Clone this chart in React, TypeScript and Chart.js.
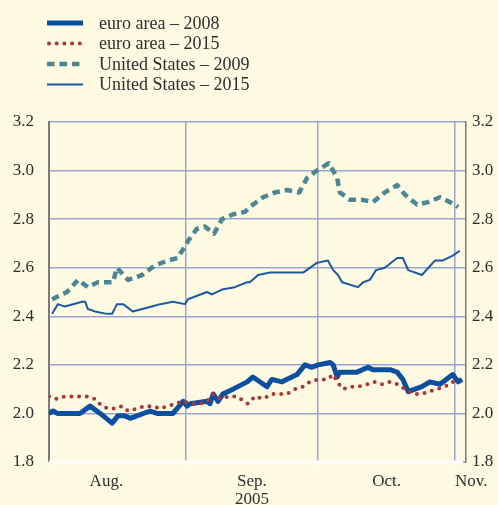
import React, { useEffect, useRef } from "react";
import { Chart, registerables } from "chart.js";
Chart.register(...registerables);

// x = calendar day counted from 1 August 2005
const euro2008Days = [0, 0.9, 2.0, 4.1, 7.0, 9.3, 11.6, 14.3, 15.6, 17.2, 18.4, 22.9, 24.5, 28.1, 30.4, 31.3, 32.0, 35.8, 36.5, 37.2, 38.3, 39.4, 41.7, 44.9, 46.2, 49.4, 50.5, 52.8, 56.2, 58.0, 59.6, 61.0, 63.7, 64.4, 65.3, 65.9, 69.8, 72.3, 73.4, 77.3, 78.9, 80.2, 81.4, 84.5, 86.3, 88.6, 91.5, 92.7, 93.6];
const euro2008Values = [2.0, 2.01, 2.0, 2.0, 2.0, 2.03, 2.0, 1.96, 1.99, 1.99, 1.98, 2.01, 2.0, 2.0, 2.05, 2.03, 2.04, 2.05, 2.04, 2.08, 2.05, 2.08, 2.1, 2.13, 2.15, 2.11, 2.14, 2.13, 2.16, 2.2, 2.19, 2.2, 2.21, 2.2, 2.15, 2.17, 2.17, 2.19, 2.18, 2.18, 2.17, 2.14, 2.09, 2.11, 2.13, 2.12, 2.16, 2.13, 2.14];

const euro2015Days = [0, 1.8, 3.6, 5.2, 7.0, 8.6, 10.4, 12.0, 13.4, 15.0, 16.5, 17.9, 19.9, 21.8, 23.6, 25.2, 27.0, 28.6, 30.4, 32.4, 34.2, 35.8, 37.2, 38.7, 40.6, 42.6, 45.1, 46.7, 48.5, 50.5, 52.1, 53.9, 55.7, 57.6, 59.1, 61.0, 63.0, 64.4, 65.3, 66.6, 68.2, 70.0, 72.1, 73.6, 75.5, 77.3, 79.1, 80.7, 82.5, 84.5, 86.1, 87.9, 89.7, 91.5, 92.7];
const euro2015Values = [2.07, 2.06, 2.07, 2.07, 2.07, 2.07, 2.06, 2.03, 2.02, 2.02, 2.03, 2.01, 2.02, 2.03, 2.03, 2.02, 2.03, 2.04, 2.05, 2.04, 2.04, 2.05, 2.08, 2.06, 2.07, 2.07, 2.04, 2.07, 2.06, 2.08, 2.08, 2.08, 2.1, 2.11, 2.13, 2.14, 2.14, 2.16, 2.13, 2.1, 2.11, 2.11, 2.12, 2.13, 2.12, 2.13, 2.12, 2.1, 2.08, 2.08, 2.09, 2.1, 2.11, 2.13, 2.11];

const us2009Days = [0.7, 4.1, 6.6, 8.8, 11.1, 14.5, 15.4, 17.9, 21.1, 24.0, 27.0, 29.2, 31.5, 33.5, 35.3, 37.4, 39.2, 41.7, 44.4, 45.5, 48.5, 51.2, 53.9, 56.7, 58.5, 60.7, 63.4, 65.3, 65.9, 68.2, 70.9, 73.4, 76.1, 78.9, 80.7, 83.4, 85.9, 88.6, 92.0, 92.7];
const us2009Values = [2.47, 2.5, 2.55, 2.52, 2.54, 2.54, 2.6, 2.55, 2.57, 2.61, 2.63, 2.64, 2.71, 2.76, 2.77, 2.74, 2.8, 2.82, 2.83, 2.85, 2.89, 2.91, 2.92, 2.91, 2.97, 3.0, 3.03, 2.97, 2.91, 2.88, 2.88, 2.87, 2.91, 2.94, 2.9, 2.86, 2.87, 2.89, 2.86, 2.85];

const us2015Days = [0.7, 2.0, 3.6, 7.5, 8.2, 8.8, 10.4, 13.1, 14.3, 15.4, 16.8, 19.0, 23.3, 25.2, 28.1, 30.8, 31.5, 35.8, 36.9, 39.2, 42.1, 44.9, 45.5, 47.4, 50.1, 51.7, 55.3, 57.6, 60.7, 63.2, 64.4, 65.5, 66.4, 70.0, 71.2, 72.7, 74.1, 76.1, 78.9, 80.2, 81.4, 84.5, 87.5, 89.3, 91.5, 93.1];
const us2015Values = [2.41, 2.45, 2.44, 2.46, 2.46, 2.43, 2.42, 2.41, 2.41, 2.45, 2.45, 2.42, 2.44, 2.45, 2.46, 2.45, 2.47, 2.5, 2.49, 2.51, 2.52, 2.54, 2.54, 2.57, 2.58, 2.58, 2.58, 2.58, 2.62, 2.63, 2.59, 2.57, 2.54, 2.52, 2.54, 2.55, 2.59, 2.6, 2.64, 2.64, 2.59, 2.57, 2.63, 2.63, 2.65, 2.67];

const seriesNames = ["euro area \u2013 2008", "euro area \u2013 2015", "United States \u2013 2009", "United States \u2013 2015"];
const monthStarts = [0, 31, 61, 92];
const monthLabels = ["Aug.", "Sep.", "Oct.", "Nov."];
const monthLabelDays = [13, 46, 76.5, 92];
const yearLabel = "2005";
const yMin = 1.8;
const yMax = 3.2;
const yStep = 0.2;

const BG = "#fefbe2";
const GRID = "#9ba5d2";
const TEXT = "#2e2e2e";
const FONT = "'Liberation Serif', 'DejaVu Serif', serif";

const styles = [
  { color: "#0b50a0", width: 5, dash: [] as number[], cap: "butt" as CanvasLineCap },
  { color: "#b03530", width: 4, dash: [0, 7.7], cap: "round" as CanvasLineCap },
  { color: "#4a8796", width: 4.5, dash: [7.5, 5], cap: "butt" as CanvasLineCap },
  { color: "#1a5aa5", width: 2, dash: [] as number[], cap: "butt" as CanvasLineCap },
];

const pts = (d: number[], v: number[]) => d.map((x, i) => ({ x, y: v[i] }));

const decor = {
  id: "decor",
  beforeDraw(chart: any) {
    const c = chart.ctx;
    c.save();
    c.fillStyle = BG;
    c.fillRect(0, 0, chart.width, chart.height);
    c.restore();
  },
  afterDraw(chart: any) {
    const c = chart.ctx as CanvasRenderingContext2D;
    const a = chart.chartArea;
    const xs = chart.scales.x;
    c.save();
    c.strokeStyle = "#ffffff";
    c.lineWidth = 3;
    c.beginPath();
    c.moveTo(a.left, a.bottom);
    c.lineTo(a.right - 3, a.bottom);
    c.stroke();
    c.lineWidth = 2;
    monthStarts.forEach((d) => {
      const px = xs.getPixelForValue(d);
      c.beginPath();
      c.moveTo(px, a.bottom);
      c.lineTo(px, a.bottom + 6);
      c.stroke();
    });
    c.fillStyle = TEXT;
    c.font = `17px ${FONT}`;
    c.textBaseline = "alphabetic";
    monthLabels.forEach((lab, i) => {
      const px = xs.getPixelForValue(monthLabelDays[i]);
      c.textAlign = i === monthLabels.length - 1 ? "left" : "center";
      c.fillText(lab, px, a.bottom + 24);
    });
    c.textAlign = "center";
    c.fillText(yearLabel, xs.getPixelForValue(monthLabelDays[1]), a.bottom + 42);
    c.font = `18px ${FONT}`;
    const rowY = [23, 43.5, 64, 84.5];
    seriesNames.forEach((name, i) => {
      const s = styles[i];
      c.strokeStyle = s.color;
      c.lineWidth = s.width;
      c.setLineDash(s.dash);
      c.lineCap = s.cap;
      c.beginPath();
      c.moveTo(i === 1 ? 49 : 47, rowY[i]);
      c.lineTo(83, rowY[i]);
      c.stroke();
      c.setLineDash([]);
      c.lineCap = "butt";
      c.fillStyle = TEXT;
      c.textAlign = "left";
      c.textBaseline = "middle";
      c.fillText(name, 99, rowY[i] + 1);
    });
    c.restore();
  },
};

export default function App() {
  const ref = useRef<HTMLCanvasElement>(null);
  useEffect(() => {
    if (!ref.current) return;
    const ds = [
      { label: seriesNames[1], data: pts(euro2015Days, euro2015Values), s: styles[1] },
      { label: seriesNames[0], data: pts(euro2008Days, euro2008Values), s: styles[0] },
      { label: seriesNames[2], data: pts(us2009Days, us2009Values), s: styles[2] },
      { label: seriesNames[3], data: pts(us2015Days, us2015Values), s: styles[3] },
    ].map((d) => ({
      label: d.label,
      data: d.data,
      borderColor: d.s.color,
      borderWidth: d.s.width,
      borderDash: d.s.dash,
      borderCapStyle: d.s.cap,
      borderJoinStyle: "round" as const,
      pointRadius: 0,
      tension: 0,
      fill: false,
    }));
    const tickFont = { family: FONT, size: 17 };
    const chart = new Chart(ref.current, {
      type: "line",
      data: { datasets: ds as any },
      options: {
        animation: false,
        responsive: false,
        layout: { padding: { top: 122, left: 0, right: 0, bottom: 0 } },
        plugins: { legend: { display: false }, tooltip: { enabled: false } },
        scales: {
          x: {
            type: "linear",
            min: 0,
            max: 94.5,
            afterBuildTicks: (s: any) => {
              s.ticks = monthStarts.map((v) => ({ value: v }));
            },
            afterFit: (s: any) => {
              s.height = 43;
            },
            ticks: { display: false },
            grid: {
              color: (ctx: any) => (ctx.tick && ctx.tick.value === 0 ? "rgba(0,0,0,0)" : GRID),
              lineWidth: 1.5,
              drawTicks: false,
            },
            border: { display: false },
          },
          y: {
            position: "left",
            min: yMin,
            max: yMax,
            afterFit: (s: any) => {
              s.width = 49;
            },
            ticks: {
              stepSize: yStep,
              callback: (v: any) => Number(v).toFixed(1),
              font: tickFont,
              color: TEXT,
              padding: 15,
            },
            grid: { color: GRID, lineWidth: 1.5, drawTicks: false },
            border: { color: "#7a7a7a", width: 2 },
          },
          y2: {
            position: "right",
            min: yMin,
            max: yMax,
            afterFit: (s: any) => {
              s.width = 32;
            },
            ticks: {
              stepSize: yStep,
              callback: (v: any) => Number(v).toFixed(1),
              font: tickFont,
              color: TEXT,
              padding: 6,
            },
            grid: { display: false, drawTicks: false },
            border: { color: "#7a7a7a", width: 1.5 },
          },
        },
      },
      plugins: [decor],
    });
    return () => chart.destroy();
  }, []);
  return (
    <canvas
      ref={ref}
      width={498}
      height={505}
      style={{ position: "fixed", left: 0, top: 0, width: 498, height: 505, display: "block" }}
    />
  );
}
